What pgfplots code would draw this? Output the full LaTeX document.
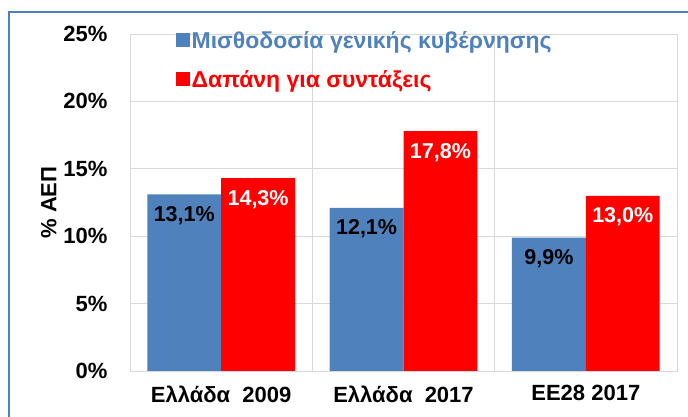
\documentclass[border=0pt]{standalone}
\usepackage{pgfplots}
\pgfplotsset{compat=1.18}
\usepackage{fontspec}
\setmainfont{Liberation Sans}
\definecolor{barblue}{HTML}{4F81BD}
\definecolor{barred}{HTML}{FF0000}
\definecolor{gridgray}{HTML}{D9D9D9}
\definecolor{frameblue}{HTML}{4F81BD}
\newcommand\bigfont{\fontsize{22}{26}\selectfont}

\begin{document}
\begin{tikzpicture}
\begin{axis}[
  at={(130pt,46pt)}, anchor=south west,
  scale only axis, width=547pt, height=337pt,
  ymin=0, ymax=25, ytick={0,5,...,25},
  yticklabel={\pgfmathprintnumber{\tick}\%},
  xmin=-0.5, xmax=2.5, xtick={0,1,2},
  xticklabels={Ελλάδα\ \ 2009, Ελλάδα\ \ 2017, ΕΕ28 2017},
  minor xtick={-0.5,0.5,1.5,2.5},
  ymajorgrids, xminorgrids,
  grid style={gridgray, line width=0.8pt},
  axis line style={gridgray, line width=0.8pt},
  major tick length=0pt, minor tick length=0pt,
  /pgf/number format/assume math mode=true,
  tick label style={font=\bigfont\bfseries},
  yticklabel style={xshift=-19pt},
  xticklabel style={yshift=-11pt},
  ylabel={\% ΑΕΠ},
  ylabel style={font=\bigfont\bfseries, at={(axis description cs:-0.128,0.5)}, anchor=south},
  ybar=0pt, bar width=0.405,
  legend style={at={(axis description cs:0.083,1.014)}, anchor=north west,
    draw=none, fill=none, inner sep=0pt, font=\fontsize{23}{27}\selectfont\bfseries,
    row sep=17pt, nodes={inner sep=2pt}},
  legend cell align=left,
  legend image code/.code={\fill (0pt,-6pt) rectangle (14pt,8pt);},
  nodes near coords={\pgfmathprintnumber[fixed,fixed zerofill,precision=1,use comma]{\pgfplotspointmeta}\%},
  every node near coord/.append style={font=\fontsize{21.5}{25}\selectfont\bfseries, anchor=north, yshift=-8.5pt},
]
\addplot[fill=barblue, draw=none, every node near coord/.append style={text=black}]
  coordinates {(0,13.1) (1,12.1) (2,9.9)};
\addplot[fill=barred, draw=none, every node near coord/.append style={text=white}]
  coordinates {(0,14.3) (1,17.8) (2,13.0)};
\legend{\textcolor{barblue}{Μισθοδοσία γενικής κυβέρνησης},
        \textcolor{barred}{Δαπάνη για συντάξεις}}
\end{axis}
\draw[frameblue, line width=2pt] (9pt,-5pt) -- (9pt,405pt) -- (700pt,405pt);
\pgfresetboundingbox
\useasboundingbox (0pt,0pt) rectangle (688pt,417pt);
\end{tikzpicture}
\end{document}
